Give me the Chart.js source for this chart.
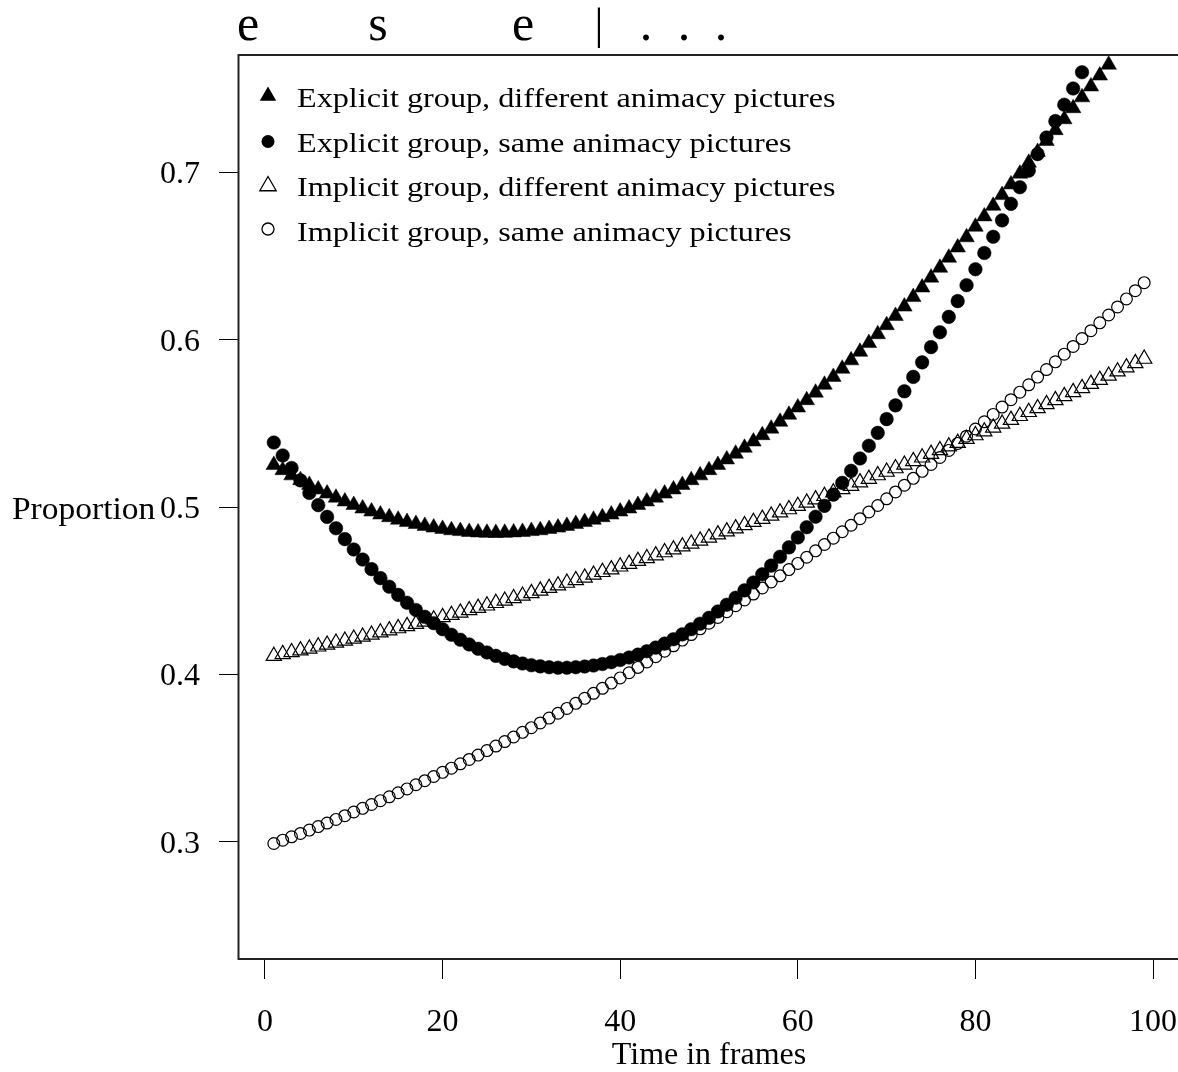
<!DOCTYPE html>
<html>
<head>
<meta charset="utf-8">
<script src="https://cdn.jsdelivr.net/npm/chart.js@4.4.1/dist/chart.umd.min.js"></script>
<style>
  html, body { margin: 0; padding: 0; background: #fff; overflow: hidden; }
  #wrap { width: 1180px; height: 1072px; }
</style>
</head>
<body>
<div id="wrap"><canvas id="chart" width="1180" height="1072"></canvas></div>
<script>
// Time axis: one observation per frame
const frames = [1,2,3,4,5,6,7,8,9,10,11,12,13,14,15,16,17,18,19,20,21,22,23,24,25,26,27,28,29,30,31,32,33,34,35,36,37,38,39,40,41,42,43,44,45,46,47,48,49,50,51,52,53,54,55,56,57,58,59,60,61,62,63,64,65,66,67,68,69,70,71,72,73,74,75,76,77,78,79,80,81,82,83,84,85,86,87,88,89,90,91,92,93,94,95,96,97,98,99];

// Proportion of looks per frame, one array per group/condition
const explicitDifferent = [0.5251,0.5220,0.5189,0.5160,0.5132,0.5105,0.5080,0.5056,0.5033,0.5012,0.4991,0.4973,0.4955,0.4939,0.4924,0.4910,0.4898,0.4887,0.4877,0.4869,0.4861,0.4856,0.4851,0.4848,0.4846,0.4845,0.4846,0.4848,0.4851,0.4856,0.4861,0.4869,0.4877,0.4887,0.4898,0.4910,0.4924,0.4939,0.4955,0.4973,0.4991,0.5012,0.5033,0.5056,0.5080,0.5105,0.5132,0.5160,0.5189,0.5220,0.5251,0.5284,0.5318,0.5354,0.5391,0.5429,0.5468,0.5509,0.5551,0.5594,0.5638,0.5683,0.5730,0.5777,0.5826,0.5876,0.5927,0.5979,0.6032,0.6086,0.6141,0.6197,0.6254,0.6311,0.6370,0.6429,0.6489,0.6550,0.6611,0.6674,0.6736,0.6799,0.6863,0.6927,0.6991,0.7056,0.7121,0.7186,0.7251,0.7316,0.7382,0.7447,0.7512,0.7577,0.7642];
const explicitSame = [0.5385,0.5308,0.5233,0.5159,0.5084,0.5011,0.4941,0.4873,0.4808,0.4746,0.4686,0.4629,0.4575,0.4524,0.4475,0.4428,0.4385,0.4344,0.4306,0.4270,0.4237,0.4207,0.4179,0.4153,0.4131,0.4111,0.4093,0.4078,0.4065,0.4055,0.4048,0.4043,0.4040,0.4040,0.4043,0.4047,0.4053,0.4062,0.4073,0.4086,0.4101,0.4118,0.4138,0.4160,0.4184,0.4210,0.4239,0.4270,0.4303,0.4338,0.4376,0.4416,0.4458,0.4502,0.4549,0.4598,0.4650,0.4703,0.4759,0.4818,0.4879,0.4942,0.5007,0.5074,0.5144,0.5216,0.5290,0.5366,0.5443,0.5525,0.5607,0.5691,0.5777,0.5864,0.5955,0.6044,0.6136,0.6230,0.6325,0.6420,0.6517,0.6614,0.6712,0.6811,0.6910,0.7009,0.7108,0.7207,0.7305,0.7403,0.7500,0.7597];
const implicitDifferent = [0.4110,0.4121,0.4132,0.4143,0.4154,0.4166,0.4177,0.4189,0.4201,0.4213,0.4225,0.4237,0.4250,0.4263,0.4275,0.4288,0.4301,0.4315,0.4328,0.4342,0.4355,0.4369,0.4383,0.4397,0.4411,0.4426,0.4440,0.4455,0.4470,0.4485,0.4500,0.4516,0.4531,0.4547,0.4563,0.4578,0.4595,0.4611,0.4627,0.4644,0.4660,0.4677,0.4694,0.4711,0.4729,0.4746,0.4764,0.4781,0.4799,0.4817,0.4836,0.4854,0.4872,0.4891,0.4910,0.4929,0.4948,0.4967,0.4986,0.5006,0.5026,0.5045,0.5065,0.5086,0.5106,0.5126,0.5147,0.5168,0.5189,0.5210,0.5231,0.5252,0.5274,0.5295,0.5317,0.5339,0.5361,0.5383,0.5406,0.5428,0.5451,0.5474,0.5497,0.5520,0.5543,0.5567,0.5590,0.5614,0.5638,0.5662,0.5686,0.5710,0.5735,0.5759,0.5784,0.5809,0.5834,0.5859,0.5885];
const implicitSame = [0.2990,0.3010,0.3030,0.3050,0.3070,0.3091,0.3112,0.3134,0.3156,0.3178,0.3200,0.3223,0.3246,0.3269,0.3293,0.3316,0.3341,0.3365,0.3390,0.3415,0.3440,0.3466,0.3492,0.3518,0.3545,0.3572,0.3599,0.3626,0.3654,0.3682,0.3710,0.3739,0.3768,0.3797,0.3827,0.3857,0.3887,0.3917,0.3948,0.3979,0.4010,0.4042,0.4074,0.4106,0.4139,0.4171,0.4205,0.4238,0.4272,0.4306,0.4340,0.4375,0.4410,0.4445,0.4480,0.4516,0.4552,0.4589,0.4626,0.4663,0.4700,0.4738,0.4776,0.4814,0.4852,0.4891,0.4930,0.4970,0.5009,0.5049,0.5090,0.5130,0.5171,0.5213,0.5254,0.5296,0.5338,0.5380,0.5423,0.5466,0.5509,0.5553,0.5597,0.5641,0.5686,0.5730,0.5776,0.5821,0.5867,0.5913,0.5959,0.6006,0.6053,0.6100,0.6147,0.6195,0.6243,0.6292,0.6340];

// Axis ticks and labels
const xTicks = [0, 20, 40, 60, 80, 100];
const yTicks = [0.3, 0.4, 0.5, 0.6, 0.7];
const seriesLabels = [
  'Explicit group, different animacy pictures',
  'Explicit group, same animacy pictures',
  'Implicit group, different animacy pictures',
  'Implicit group, same animacy pictures'
];
const xTitle = 'Time in frames';
const yTitle = 'Proportion';
const headerGlyphs = ['e', 's', 'e', '|', '.', '.', '.'];

const SERIF = '"Liberation Serif", "Times New Roman", serif';

function pairs(values) {
  return values.map((v, i) => ({ x: frames[i], y: v }));
}

// Marker styles per series
const markerStyles = [
  { shape: 'triangle', filled: true },
  { shape: 'circle', filled: true },
  { shape: 'triangle', filled: false },
  { shape: 'circle', filled: false }
];

function drawMarker(ctx, style, x, y, size) {
  ctx.save();
  ctx.beginPath();
  if (style.shape === 'triangle') {
    const r = size;
    const w = r * Math.sqrt(3) / 2;
    ctx.moveTo(x, y - r);
    ctx.lineTo(x + w, y + r / 2);
    ctx.lineTo(x - w, y + r / 2);
    ctx.closePath();
  } else {
    ctx.arc(x, y, size, 0, Math.PI * 2);
  }
  if (style.filled) {
    ctx.fillStyle = '#000';
    ctx.fill();
  } else {
    ctx.lineWidth = 1.3;
    ctx.strokeStyle = '#000';
    ctx.stroke();
  }
  ctx.restore();
}

function stretchedText(ctx, text, x, y, sx, align, baseline) {
  ctx.save();
  ctx.translate(x, y);
  ctx.scale(sx, 1);
  ctx.textAlign = align;
  ctx.textBaseline = baseline || 'alphabetic';
  ctx.fillText(text, 0, 0);
  ctx.restore();
}

// Box, tick labels, legend, titles and header strip
const decorations = {
  id: 'decorations',
  afterDraw(chart) {
    const ctx = chart.ctx;
    const a = chart.chartArea;
    const xs = chart.scales.x;
    const ys = chart.scales.y;
    ctx.save();

    // plot frame (right edge falls just outside the canvas)
    ctx.strokeStyle = '#222';
    ctx.lineWidth = 2;
    ctx.beginPath();
    ctx.moveTo(a.right + 2, a.top);
    ctx.lineTo(a.left - 0.5, a.top);
    ctx.lineTo(a.left - 0.5, a.bottom);
    ctx.lineTo(a.right + 2, a.bottom);
    ctx.stroke();

    // tick labels
    ctx.fillStyle = '#000';
    ctx.font = '32px ' + SERIF;
    xTicks.forEach(v => {
      stretchedText(ctx, String(v), xs.getPixelForValue(v), 1031, 1.0, 'center');
    });
    yTicks.forEach(v => {
      stretchedText(ctx, v.toFixed(1), 200, ys.getPixelForValue(v) + 11, 1.0, 'right');
    });

    // legend
    ctx.font = '28px ' + SERIF;
    const rowBase = [107, 151.5, 196, 240.5];
    const markerY = [96, 141.5, 186, 229];
    const markerSize = [9.5, 6.5, 9.5, 6];
    seriesLabels.forEach((label, i) => {
      drawMarker(ctx, markerStyles[i], 268, markerY[i], markerSize[i]);
      ctx.fillStyle = '#000';
      stretchedText(ctx, label, 297, rowBase[i], 1.15, 'left');
    });

    // axis titles
    ctx.font = '31px ' + SERIF;
    stretchedText(ctx, yTitle, 12, 519, 1.08, 'left');
    ctx.font = '32px ' + SERIF;
    stretchedText(ctx, xTitle, (a.left + a.right) / 2, 1064, 1.0, 'center');

    // header strip above the plot
    const headerX = [248, 378, 523, 599, 646, 684, 721];
    headerGlyphs.forEach((g, i) => {
      ctx.font = (g === '|' ? '44px ' : '50px ') + SERIF;
      stretchedText(ctx, g, headerX[i], g === '|' ? 39 : 40, 1.0, 'center');
    });

    ctx.restore();
  }
};

const datasets = [
  { data: pairs(explicitDifferent), pointStyle: 'triangle', pointRadius: 9,
    pointBackgroundColor: '#000', pointBorderColor: '#000', pointBorderWidth: 0.5 },
  { data: pairs(explicitSame), pointStyle: 'circle', pointRadius: 6.8,
    pointBackgroundColor: '#000', pointBorderColor: '#000', pointBorderWidth: 0.5 },
  { data: pairs(implicitDifferent), pointStyle: 'triangle', pointRadius: 8.8,
    pointBackgroundColor: 'rgba(0,0,0,0)', pointBorderColor: '#000', pointBorderWidth: 1.2 },
  { data: pairs(implicitSame), pointStyle: 'circle', pointRadius: 5.9,
    pointBackgroundColor: 'rgba(0,0,0,0)', pointBorderColor: '#000', pointBorderWidth: 1.2 }
].map((d, i) => Object.assign({ label: seriesLabels[i], showLine: false, clip: 0 }, d));

new Chart(document.getElementById('chart'), {
  type: 'scatter',
  data: { datasets },
  options: {
    responsive: false,
    animation: false,
    events: [],
    layout: { autoPadding: false, padding: { top: 55, right: 1, bottom: 0, left: 0 } },
    plugins: { legend: { display: false }, tooltip: { enabled: false }, title: { display: false } },
    scales: {
      x: {
        type: 'linear', min: -2.92, max: 102.92,
        afterBuildTicks: s => { s.ticks = xTicks.map(v => ({ value: v })); },
        afterFit: s => { s.height = 113; },
        grid: { display: true, drawOnChartArea: false, drawTicks: true, tickLength: 20, color: '#000', lineWidth: 1 },
        border: { display: false },
        ticks: { display: false }
      },
      y: {
        type: 'linear', min: 0.23, max: 0.77,
        afterBuildTicks: s => { s.ticks = yTicks.map(v => ({ value: v })); },
        afterFit: s => { s.width = 239; },
        grid: { display: true, drawOnChartArea: false, drawTicks: true, tickLength: 20, color: '#000', lineWidth: 1 },
        border: { display: false },
        ticks: { display: false }
      }
    }
  },
  plugins: [decorations]
});
</script>
</body>
</html>
